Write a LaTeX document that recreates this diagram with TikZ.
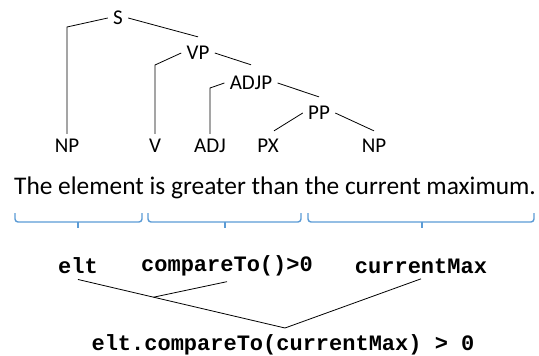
\documentclass[tikz,border=0pt]{standalone}
\usepackage{fontspec}
\setmainfont{Carlito}
\setmonofont{Liberation Mono}
\usepackage{tikz}
\usetikzlibrary{calc}

\begin{document}
\begin{tikzpicture}[x=1pt,y=-1pt,inner sep=5pt,
  cat/.style={font=\fontsize{21}{25}\selectfont},
  code/.style={font=\fontsize{22}{26}\selectfont\ttfamily\bfseries},
  brc/.style={draw={rgb,255:red,91;green,155;blue,213},line width=1.4pt,rounded corners=3pt},
  every path/.style={line width=0.8pt}]
\useasboundingbox (0,0) rectangle (539,356);
% parse tree
\node at (118,18) [cat] (S) {S};
\node at (198,53) [cat] (VP) {VP};
\node at (251,83) [cat] (ADJP) {ADJP};
\node at (319,113) [cat] (PP) {PP};
\node at (67,146) [cat] (NP1) {NP};
\node at (155,146) [cat] (V) {V};
\node at (210,146) [cat] (ADJ) {ADJ};
\node at (268,146) [cat] (PX) {PX};
\node at (374,146) [cat] (NP2) {NP};
\draw (S.west) -- (67,27) -- (NP1.north);
\draw (S.east) -- ([yshift=4pt]VP.north);
\draw (VP.west) -- (155,65) -- (V.north);
\draw (VP.east) -- ([yshift=6pt]ADJP.north);
\draw (ADJP.west) -- (210,88) -- (ADJ.north);
\draw (ADJP.east) -- ([yshift=4pt]PP.north);
\draw (PP.west) -- ([xshift=6pt,yshift=3pt]PX.north);
\draw (PP.east) -- ([yshift=3pt]NP2.north);
% sentence and braces
\node at (275,188) [font=\fontsize{25.4}{30}\selectfont] (sent) {The element is greater than the current maximum.};
\draw[brc] (15,213) |- (142,222) -- (142,213);
\draw[brc] (78,222) -- (78,228);
\draw[brc] (148,213) |- (301,222) -- (301,213);
\draw[brc] (225,222) -- (225,228);
\draw[brc] (308,213) |- (534,222) -- (534,213);
\draw[brc] (422,222) -- (422,228);
% code
\node at (78,266) [code] (elt) {elt};
\node at (227,266) [code] (cmp) {compareTo()>0};
\node at (421,266) [code] (cur) {currentMax};
\node at (283,345) [code] (res) {elt.compareTo(currentMax) > 0};
\coordinate (v) at (285,328);
\coordinate (j) at ($(elt.south)!0.365!(v)$);
\draw (elt.south) -- (v);
\draw (cmp.south) -- (j);
\draw (cur.south) -- (v);

\end{tikzpicture}
\end{document}
